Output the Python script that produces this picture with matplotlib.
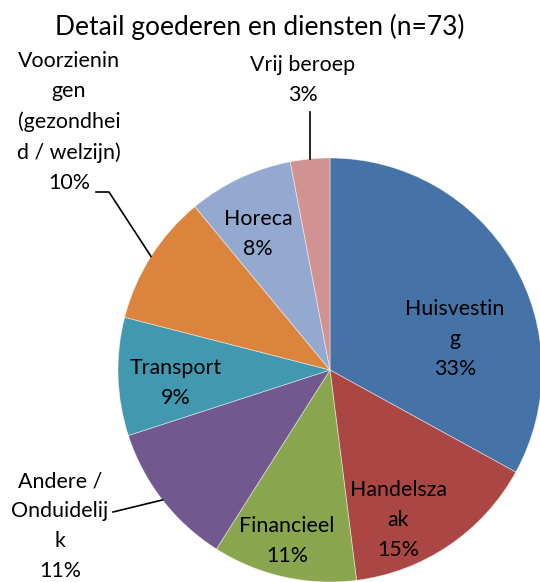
import matplotlib
matplotlib.use("Agg")
import matplotlib.pyplot as plt
import numpy as np

plt.rcParams['font.family'] = ['Lato', 'DejaVu Sans']

title = "Detail goederen en diensten (n=73)"
categories = ["Huisvesting", "Handelszaak", "Financieel", "Andere / Onduidelijk",
              "Transport", "Voorzieningen (gezondheid / welzijn)", "Horeca", "Vrij beroep"]
label_texts = ["Huisvestin\ng", "Handelsza\nak", "Financieel", "Andere /\nOnduidelij\nk",
               "Transport", "Voorzienin\ngen\n(gezondhei\nd / welzijn)", "Horeca", "Vrij beroep"]
percentages = [33, 15, 11, 11, 9, 10, 8, 3]
colors = ["#4572A7", "#AA4643", "#89A54E", "#71588F", "#4198AF", "#DB843D", "#93A9CF", "#D19392"]

W, H = 540, 582
CX, CY, R = 330, 370, 212

fig = plt.figure(figsize=(W / 100, H / 100), dpi=100)
ax = fig.add_axes([(CX - R) / W, (H - CY - R) / H, 2 * R / W, 2 * R / H])
wedges, _ = ax.pie(percentages, colors=colors, startangle=90, counterclock=False,
                   radius=1.0, wedgeprops=dict(edgecolor=(1, 1, 1, 0.5), linewidth=0.6))
ax.set_xlim(-1, 1)
ax.set_ylim(-1, 1)
ax.set_aspect('equal')
ax.axis('off')


def to_data(px, py):
    return (px - CX) / R, (CY - py) / R


fs = 15.4
# label anchor positions in pixels (layout), inside or outside
label_pos = {
    0: (455, 339),
    1: (398, 520),
    2: (287, 541),
    3: (60, 526),
    4: (176, 383),
    5: (69, 122),
    6: (258, 234),
    7: (303, 80),
}
for i, (px, py) in label_pos.items():
    x, y = to_data(px, py)
    ax.text(x, y, f"{label_texts[i]}\n{percentages[i]}%", ha='center', va='center',
            fontsize=fs, linespacing=1.62, color='#000000', clip_on=False)

# leader lines from mid-angle on the edge
def edge_point(i):
    w = wedges[i]
    a = np.deg2rad((w.theta1 + w.theta2) / 2)
    return np.cos(a), np.sin(a)

lw = 1.2
# Voorzieningen
ex, ey = edge_point(5)
p1 = to_data(96, 192)
p2 = to_data(109, 192)
ax.plot([p1[0], p2[0], ex], [p1[1], p2[1], ey], color='black', lw=lw, clip_on=False)
# Andere
ex, ey = edge_point(3)
p1 = to_data(113, 512)
ax.plot([p1[0], ex], [p1[1], ey], color='black', lw=lw, clip_on=False)
# Vrij beroep
ex, ey = edge_point(7)
p1 = to_data(ex * R + CX, 112)
ax.plot([p1[0], ex], [p1[1], ey], color='black', lw=lw, clip_on=False)

fig.text(260 / W, 1 - 27 / H, title, ha='center', va='center', fontsize=19)

fig.savefig("out.png", dpi=100)
